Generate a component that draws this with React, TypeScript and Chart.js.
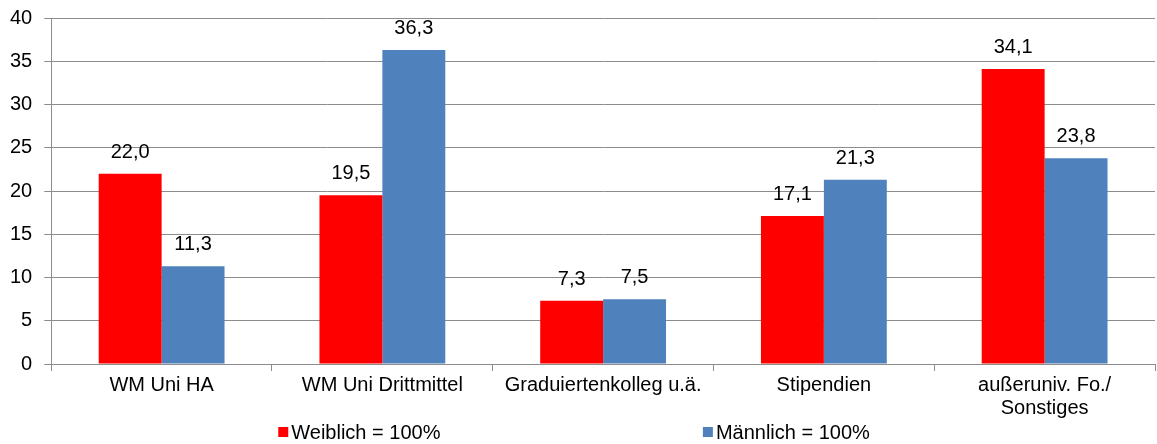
import React, { useEffect, useRef } from "react";
import { Chart, registerables } from "chart.js";

Chart.register(...registerables);

const categories: (string | string[])[] = [
  "WM Uni HA",
  "WM Uni Drittmittel",
  "Graduiertenkolleg u.ä.",
  "Stipendien",
  ["außeruniv. Fo./", "Sonstiges"],
];
const weiblich = [22.0, 19.5, 7.3, 17.1, 34.1];
const maennlich = [11.3, 36.3, 7.5, 21.3, 23.8];
const seriesNames = ["Weiblich = 100%", "Männlich = 100%"];
const seriesColors = ["#FF0000", "#4F81BD"];
const yTicks = { min: 0, max: 40, step: 5 };

const FONT = "'Liberation Sans', Arial, sans-serif";
const GRID = "#8C8C8C";

const valueLabels = {
  id: "valueLabels",
  afterDatasetsDraw(chart: any) {
    const ctx = chart.ctx;
    ctx.save();
    ctx.font = `20px ${FONT}`;
    ctx.fillStyle = "#000";
    ctx.textAlign = "center";
    ctx.textBaseline = "alphabetic";
    chart.data.datasets.forEach((ds: any, i: number) => {
      const meta = chart.getDatasetMeta(i);
      meta.data.forEach((bar: any, j: number) => {
        const v = ds.data[j] as number;
        ctx.fillText(v.toFixed(1).replace(".", ","), bar.x, bar.y - 16);
      });
    });
    ctx.restore();
  },
};

const customLegend = {
  id: "customLegend",
  afterDraw(chart: any) {
    const ctx = chart.ctx;
    const positions = [0.2405, 0.6075];
    const y = chart.height - 12;
    ctx.save();
    ctx.font = `20px ${FONT}`;
    ctx.textBaseline = "middle";
    ctx.textAlign = "left";
    chart.data.datasets.forEach((ds: any, i: number) => {
      const x = chart.width * positions[i];
      ctx.fillStyle = ds.backgroundColor;
      ctx.fillRect(x, y - 5, 10, 10);
      ctx.fillStyle = "#000";
      ctx.fillText(ds.label, x + 13, y + 1);
    });
    ctx.restore();
  },
};

export default function App() {
  const ref = useRef<HTMLCanvasElement>(null);
  useEffect(() => {
    document.body.style.margin = "0";
    const chart = new Chart(ref.current!, {
      type: "bar",
      data: {
        labels: categories,
        datasets: [
          { label: seriesNames[0], data: weiblich, backgroundColor: seriesColors[0] },
          { label: seriesNames[1], data: maennlich, backgroundColor: seriesColors[1] },
        ],
      },
      options: {
        animation: false,
        responsive: false,
        maintainAspectRatio: false,
        layout: { padding: { top: 0, right: 2, left: -2, bottom: 21 } },
        datasets: { bar: { categoryPercentage: 0.57, barPercentage: 1.0 } } as any,
        plugins: {
          legend: { display: false },
          tooltip: { enabled: false },
        },
        scales: {
          x: {
            grid: {
              drawOnChartArea: false,
              drawTicks: true,
              tickLength: 7,
              color: GRID,
            },
            border: { color: GRID, width: 1 },
            ticks: {
              color: "#000",
              padding: 3,
              maxRotation: 0,
              autoSkip: false,
              font: { family: FONT, size: 20, lineHeight: 1.15 },
            },
          },
          y: {
            min: yTicks.min,
            max: yTicks.max,
            grid: { color: GRID, tickLength: 7, drawTicks: true },
            border: { color: GRID, width: 1 },
            ticks: {
              stepSize: yTicks.step,
              color: "#000",
              padding: 12,
              font: { family: FONT, size: 20, lineHeight: 0.6 },
            },
          },
        },
      },
      plugins: [valueLabels, customLegend],
    });
    return () => chart.destroy();
  }, []);
  return <canvas ref={ref} width={1157} height={444} style={{ display: "block" }} />;
}
